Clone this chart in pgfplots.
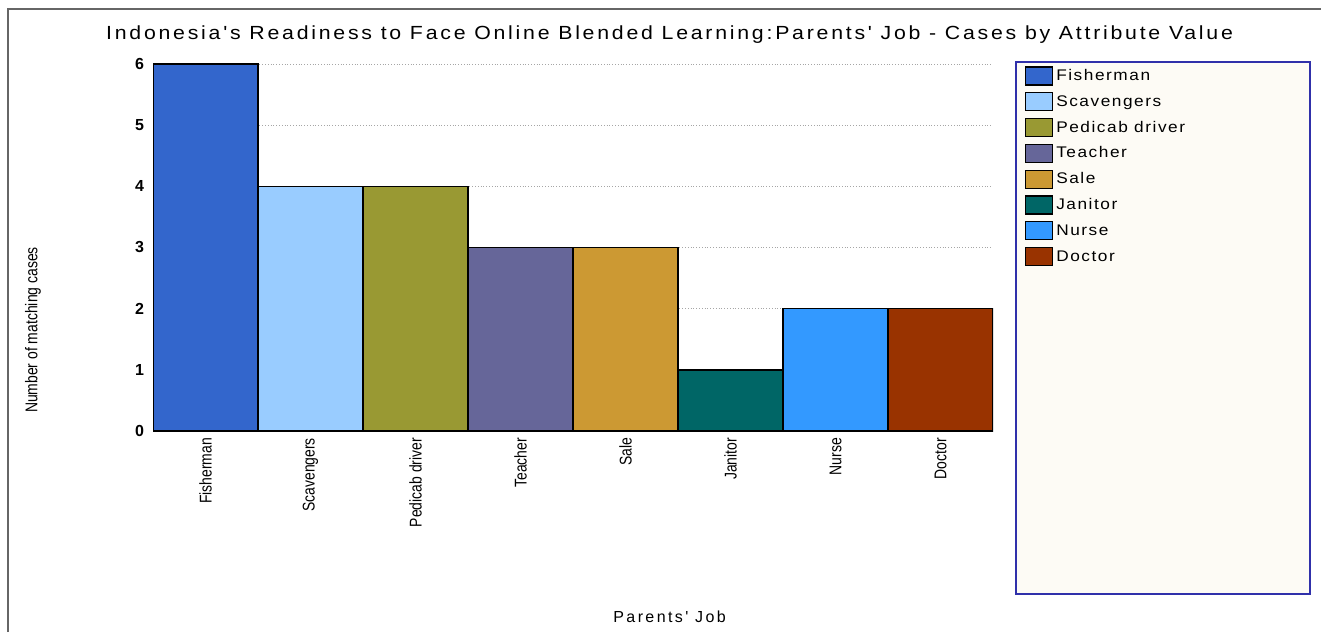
\documentclass[border=0pt]{standalone}
\usepackage{fontspec}
\setmainfont{Liberation Sans}
\newfontfamily\titlefont[LetterSpace=13]{Liberation Sans}
\newfontfamily\legfont[LetterSpace=9]{Liberation Sans}
\newfontfamily\spaced[LetterSpace=15]{Liberation Sans}
\usepackage{graphicx}
\usepackage{pgfplots}
\pgfplotsset{compat=1.18}
\newcommand\nar[1]{\scalebox{0.82}[1]{#1}}
\newcommand\wide[1]{\scalebox{1.12}[1]{#1}}
\definecolor{cFish}{RGB}{51,102,204}
\definecolor{cScav}{RGB}{153,204,255}
\definecolor{cPedi}{RGB}{153,153,51}
\definecolor{cTeach}{RGB}{102,102,153}
\definecolor{cSale}{RGB}{204,153,51}
\definecolor{cJan}{RGB}{0,102,102}
\definecolor{cNurse}{RGB}{51,153,255}
\definecolor{cDoc}{RGB}{153,51,0}
\definecolor{legfill}{RGB}{253,251,245}
\definecolor{legdraw}{RGB}{48,48,170}
\begin{document}
\begin{tikzpicture}
% page frame (1 px = 0.5pt)
\draw[gray!80!black, line width=0.6pt] (4pt,0pt) -- (4pt,311.5pt) -- (660.5pt,311.5pt);
% legend box
\draw[legdraw, fill=legfill, line width=1pt] (508pt,19pt) rectangle (655pt,285pt);
\begin{axis}[
    at={(76.5pt,100.5pt)}, anchor=south west,
    scale only axis,
    width=420pt, height=183.5pt,
    xmin=-0.5, xmax=7.5,
    ymin=0, ymax=6,
    enlargelimits=false,
    xtick={0,...,7},
    xticklabels={\nar{Fisherman},\nar{Scavengers},\nar{Pedicab driver},\nar{Teacher},\nar{Sale},\nar{Janitor},\nar{Nurse},\nar{Doctor}},
    ytick={0,...,6},
    axis line style={draw=none},
    tick style={draw=none},
    ymajorgrids=true,
    grid style={densely dotted, gray!70},
    /pgf/number format/assume math mode=true,
    yticklabel style={font=\bfseries\fontsize{8}{9}\selectfont, xshift=-1pt},
    xticklabel style={rotate=90, anchor=east, font=\fontsize{8.5}{10}\selectfont},
    xlabel={Parents' Job},
    ylabel={\nar{Number of matching cases}},
    every axis x label/.style={at={(rel axis cs:0.615,-0.507)}, anchor=center, font=\spaced\fontsize{8}{10}\selectfont},
    every axis y label/.style={at={(rel axis cs:-0.143,0.275)}, anchor=center, rotate=90, font=\fontsize{8.5}{10}\selectfont},
    title={\wide{Indonesia's Readiness to Face Online Blended Learning:Parents' Job - Cases by Attribute Value}},
    every axis title shift=0pt,
    title style={at={(rel axis cs:0.615,1.079)}, anchor=center, font=\titlefont\fontsize{9.5}{11}\selectfont},
    mybar/.style={ybar, bar width=1, bar shift=0pt, draw=black, line width=0.7pt,
        legend image code/.code={\draw[##1, draw=black, line width=0.6pt] (0pt,-4.5pt) rectangle (13.5pt,4.5pt);}},
    legend style={at={(rel axis cs:1.0377,0.9946)}, anchor=north west, draw=none, fill=none,
        font=\legfont\fontsize{7.7}{9}\selectfont,
        row sep=3.3pt, inner sep=0pt,
        nodes={inner sep=0pt, text height=6pt, text depth=1.5pt},
        /tikz/every odd column/.append style={column sep=1.5pt}},
    legend cell align=left,
]
\addplot[mybar, fill=cFish] coordinates {(0,6)};
\addplot[mybar, fill=cScav] coordinates {(1,4)};
\addplot[mybar, fill=cPedi] coordinates {(2,4)};
\addplot[mybar, fill=cTeach] coordinates {(3,3)};
\addplot[mybar, fill=cSale] coordinates {(4,3)};
\addplot[mybar, fill=cJan] coordinates {(5,1)};
\addplot[mybar, fill=cNurse] coordinates {(6,2)};
\addplot[mybar, fill=cDoc] coordinates {(7,2)};
\legend{\wide{Fisherman},\wide{Scavengers},\wide{Pedicab driver},\wide{Teacher},\wide{Sale},\wide{Janitor},\wide{Nurse},\wide{Doctor}}
\end{axis}
\pgfresetboundingbox
\useasboundingbox (0,0) rectangle (660.5pt,316pt);
\end{tikzpicture}
\end{document}
